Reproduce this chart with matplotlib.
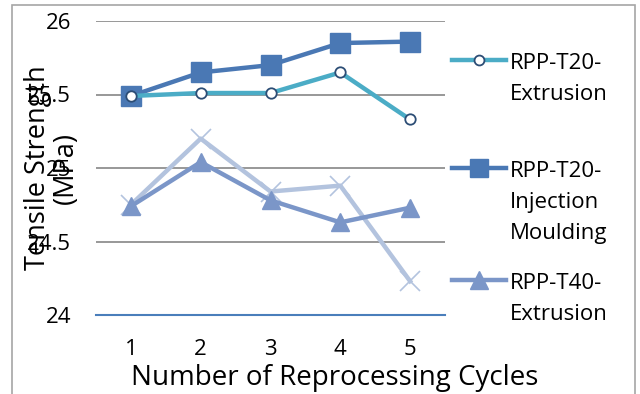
import numpy as np
import matplotlib.pyplot as plt
from matplotlib.patches import Rectangle
from matplotlib.lines import Line2D

cycles = [1, 2, 3, 4, 5]
t20_extrusion = [25.49, 25.51, 25.51, 25.65, 25.33]
t20_injection = [25.49, 25.65, 25.70, 25.85, 25.86]
t40_extrusion = [24.74, 25.04, 24.78, 24.63, 24.73]
t40_injection = [24.75, 25.20, 24.84, 24.88, 24.23]
yticks = [24, 24.5, 25, 25.5, 26]
ytick_labels = ['24', '24.5', '25', '25.5', '26']
legend_labels = ['RPP-T20-\nExtrusion', 'RPP-T20-\nInjection\nMoulding', 'RPP-T40-\nExtrusion']

plt.rcParams['font.family'] = ['Open Sans', 'DejaVu Sans']

W, H = 640, 394
fig = plt.figure(figsize=(6.4, 3.94), dpi=100)
fig.patches.append(Rectangle((12/W, -0.1), 623/W, 1.1 - 5/H, transform=fig.transFigure,
                             fill=False, edgecolor='#a6a6a6', linewidth=1.2))
ax = fig.add_axes([96/W, 1 - 315/H, 349/W, 294/H])

x = np.array(cycles)
s4 = dict(color='#b3c3de', lw=3.2, marker='x', ms=14, mew=1.2)
s3 = dict(color='#7b96c8', lw=3.2, marker='^', ms=13)
s2 = dict(color='#4a78b4', lw=3.2, marker='s', ms=14)
s1 = dict(color='#4bacc6', lw=3.2, marker='o', ms=7.5, mfc='white', mec='#2c4d75', mew=1.3)
ax.plot(x, t40_injection, zorder=3, **s4)
ax.plot(x, t40_extrusion, zorder=4, **s3)
ax.plot(x, t20_injection, zorder=5, **s2)
ax.plot(x, t20_extrusion, zorder=6, **s1)

ax.set_xlim(0.5, 5.5)
ax.set_ylim(24, 26)
ax.set_yticks(yticks)
ax.set_yticklabels(ytick_labels)
ax.set_xticks(cycles)
ax.grid(axis='y', color='#868686', lw=1.2)
ax.set_axisbelow(True)
for s in ['top', 'right', 'left']:
    ax.spines[s].set_visible(False)
ax.spines['bottom'].set_color('#4a7ebb')
ax.spines['bottom'].set_linewidth(1.5)
ax.tick_params(axis='both', length=0, labelsize=16)
ax.tick_params(axis='y', pad=18)
ax.tick_params(axis='x', pad=17)

# axis titles placed like the original (x title centred on the whole chart)
fig.text(335/W, 1 - 378/H, 'Number of Reprocessing Cycles', fontsize=20,
         ha='center', va='center')
fig.text(52/W, 1 - 168/H, 'Tensile Strength\n(MPa)', rotation=90, fontsize=19.5,
         ha='center', va='center', multialignment='center', linespacing=1.0)

# legend drawn by hand so the key sits on the first text line, as in the original
key_y = [60, 168, 280]
for style, label, yy in zip([s1, s2, s3], legend_labels, key_y):
    st = dict(style)
    st['ms'] = st['ms'] * 0.95
    fig.add_artist(Line2D([452/W, 479/W, 506/W], [1 - yy/H] * 3, transform=fig.transFigure,
                          markevery=[1], **st))
    fig.text(510/W, 1 - (yy - 7)/H, label, fontsize=16, ha='left', va='top',
             linespacing=1.62, transform=fig.transFigure)

fig.savefig('out.png', dpi=100)
